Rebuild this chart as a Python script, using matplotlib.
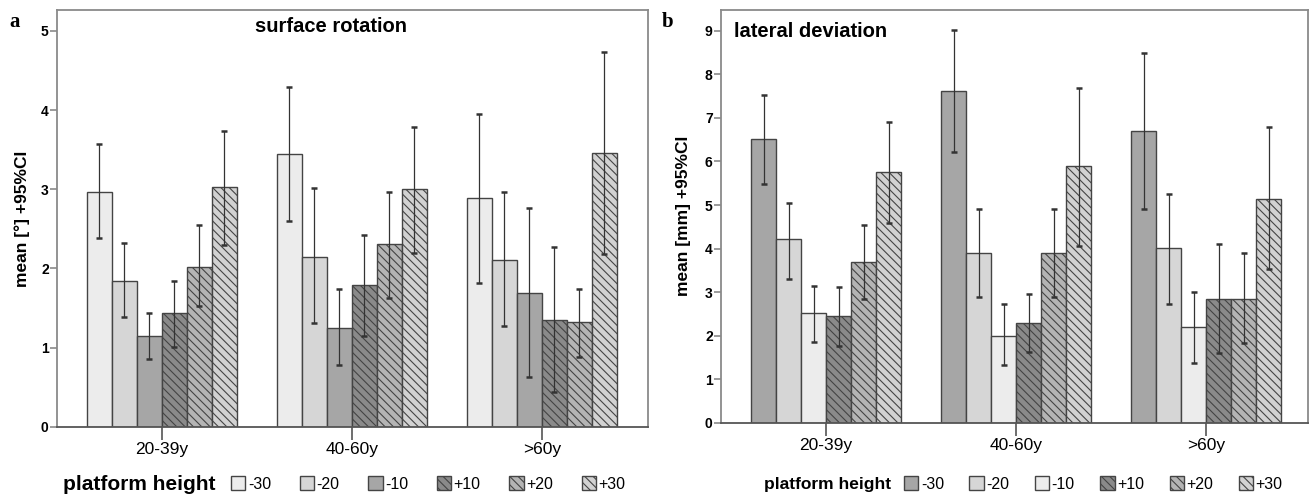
import matplotlib
matplotlib.use("Agg")
import matplotlib.pyplot as plt
import numpy as np
from matplotlib.patches import Patch

# ---------------- data ----------------
groups = ["20-39y", "40-60y", ">60y"]
heights = ["-30", "-20", "-10", "+10", "+20", "+30"]

# surface rotation [deg]: rows = platform height, cols = age group
rot_mean = [[2.97, 3.45, 2.89],
            [1.84, 2.14, 2.10],
            [1.14, 1.25, 1.69],
            [1.43, 1.79, 1.35],
            [2.02, 2.31, 1.32],
            [3.03, 3.00, 3.46]]
rot_lo = [[2.38, 2.60, 1.81],
          [1.38, 1.31, 1.27],
          [0.85, 0.78, 0.63],
          [1.01, 1.15, 0.44],
          [1.52, 1.62, 0.88],
          [2.30, 2.20, 2.18]]
rot_hi = [[3.57, 4.29, 3.95],
          [2.32, 3.01, 2.96],
          [1.44, 1.74, 2.76],
          [1.84, 2.42, 2.27],
          [2.55, 2.97, 1.74],
          [3.74, 3.78, 4.73]]

# lateral deviation [mm]
lat_mean = [[6.52, 7.63, 6.69],
            [4.21, 3.90, 4.01],
            [2.51, 2.00, 2.20],
            [2.45, 2.30, 2.85],
            [3.69, 3.90, 2.85],
            [5.76, 5.89, 5.15]]
lat_lo = [[5.49, 6.21, 4.92],
          [3.31, 2.88, 2.72],
          [1.86, 1.32, 1.38],
          [1.76, 1.63, 1.61],
          [2.85, 2.88, 1.84],
          [4.58, 4.05, 3.52]]
lat_hi = [[7.53, 9.02, 8.49],
          [5.05, 4.90, 5.26],
          [3.15, 2.73, 3.00],
          [3.11, 2.95, 4.11],
          [4.55, 4.92, 3.89],
          [6.91, 7.69, 6.79]]

# ---------------- style ----------------
SANS = ["Liberation Sans", "DejaVu Sans"]
SERIF = ["Liberation Serif", "DejaVu Serif"]
plt.rcParams["font.family"] = SANS
plt.rcParams["hatch.linewidth"] = 0.8

SPINE = "#8a8a8a"
EDGE = "#444444"

styles_a = [dict(fc="#ececec", hatch=None),
            dict(fc="#d6d6d6", hatch=None),
            dict(fc="#a6a6a6", hatch=None),
            dict(fc="#8a8a8a", hatch="\\\\\\\\"),
            dict(fc="#b4b4b4", hatch="\\\\\\\\"),
            dict(fc="#d2d2d2", hatch="\\\\\\\\")]
styles_b = [dict(fc="#a6a6a6", hatch=None),
            dict(fc="#d6d6d6", hatch=None),
            dict(fc="#ececec", hatch=None),
            dict(fc="#8a8a8a", hatch="\\\\\\\\"),
            dict(fc="#b4b4b4", hatch="\\\\\\\\"),
            dict(fc="#d2d2d2", hatch="\\\\\\\\")]

W, H = 1309, 496
fig = plt.figure(figsize=(W / 100, H / 100), dpi=100)


def px_axes(l, t, r, b):
    return fig.add_axes([l / W, 1 - b / H, (r - l) / W, (b - t) / H])


ax_a = px_axes(57, 10.3, 648, 426.7)
ax_b = px_axes(721, 10, 1307.7, 422.7)

bw = 25 / 190.0
x = np.arange(len(groups))


def draw(ax, mean, lo, hi, styles, ylim, yticks, xlim):
    handles = []
    for i, h in enumerate(heights):
        xs = x + (i - 2.5) * bw
        m = np.array(mean[i]); l = np.array(lo[i]); u = np.array(hi[i])
        ax.bar(xs, m, width=bw, color=styles[i]["fc"], edgecolor=EDGE,
               linewidth=1.0, hatch=styles[i]["hatch"], zorder=2, label=h)
        ax.errorbar(xs, m, yerr=[m - l, u - m], fmt="none", ecolor="#333333",
                    elinewidth=0.9, capsize=2.2, capthick=1.8, zorder=3)
        handles.append(Patch(facecolor=styles[i]["fc"], edgecolor=EDGE,
                             hatch=styles[i]["hatch"], linewidth=1.0))
    ax.set_ylim(*ylim)
    ax.set_xlim(*xlim)
    ax.set_yticks(yticks)
    ax.set_yticklabels([str(t) for t in yticks], fontsize=10, fontweight="bold")
    ax.set_xticks(x)
    ax.set_xticklabels(groups, fontsize=12.5)
    for s in ax.spines.values():
        s.set_color(SPINE)
        s.set_linewidth(1.3)
    ax.spines["bottom"].set_color("#555555")
    ax.tick_params(axis="y", direction="out", length=5, width=1.2, color=SPINE, pad=1)
    ax.tick_params(axis="x", direction="out", length=9, width=1.2, color="#555555", pad=2)
    return handles


h_a = draw(ax_a, rot_mean, rot_lo, rot_hi, styles_a, (0, 5.26), [0, 1, 2, 3, 4, 5],
           (-0.551, 2.559))
h_b = draw(ax_b, lat_mean, lat_lo, lat_hi, styles_b, (0, 9.48), list(range(10)),
           (-0.553, 2.535))

ax_a.set_ylabel("mean [°] +95%CI", fontsize=12.5, fontweight="bold", labelpad=8)
ax_b.set_ylabel("mean [mm] +95%CI", fontsize=12.5, fontweight="bold", labelpad=10)

ax_a.text(0.464, 0.962, "surface rotation", transform=ax_a.transAxes,
          ha="center", va="center", fontsize=14.5, fontweight="bold")
ax_b.text(0.022, 0.948, "lateral deviation", transform=ax_b.transAxes,
          ha="left", va="center", fontsize=14.5, fontweight="bold")

fig.text(15 / W, 1 - 22 / H, "a", family=SERIF, fontsize=15, fontweight="bold",
         ha="center", va="center")
fig.text(668 / W, 1 - 22 / H, "b", family=SERIF, fontsize=15, fontweight="bold",
         ha="center", va="center")

# legends
fig.text(63 / W, 1 - 484 / H, "platform height", fontsize=15, fontweight="bold",
         ha="left", va="center")
fig.legend(h_a, heights, loc="center left", bbox_to_anchor=(231 / W, 1 - 484 / H),
           ncol=6, frameon=False, fontsize=11.5, handlelength=0.9, handleheight=0.9,
           handletextpad=0.15, columnspacing=1.8, borderpad=0, borderaxespad=0)

fig.text(764 / W, 1 - 484 / H, "platform height", fontsize=12.5, fontweight="bold",
         ha="left", va="center")
fig.legend(h_b, heights, loc="center left", bbox_to_anchor=(904 / W, 1 - 484 / H),
           ncol=6, frameon=False, fontsize=11.5, handlelength=0.9, handleheight=0.9,
           handletextpad=0.15, columnspacing=1.6, borderpad=0, borderaxespad=0)

fig.savefig("out.png", dpi=100)
